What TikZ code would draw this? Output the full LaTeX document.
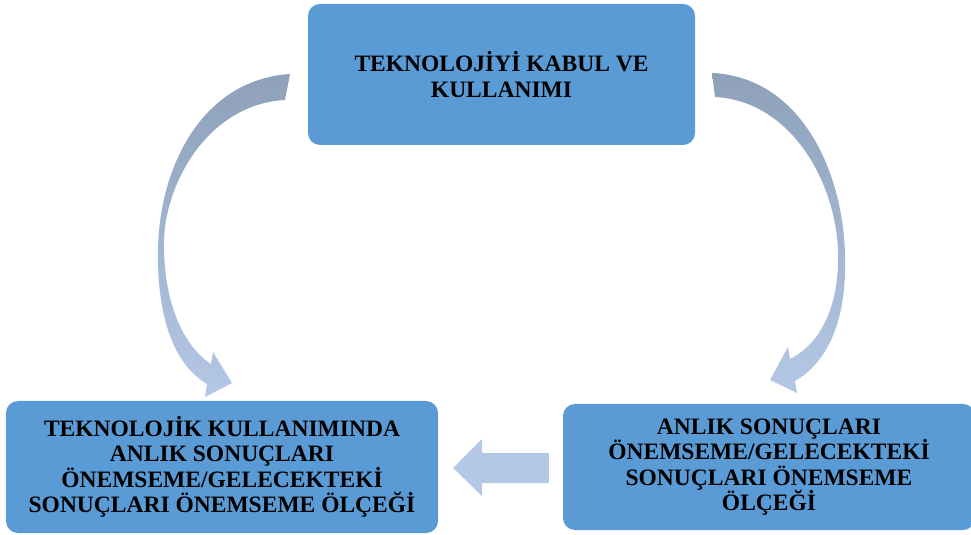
\documentclass[tikz,border=0pt]{standalone}
\usepackage{fontspec}
\setmainfont{Liberation Serif}
\usetikzlibrary{calc}
\definecolor{boxblue}{HTML}{5B9BD5}
\definecolor{arrowgray}{HTML}{8EA1B9}
\definecolor{arrowlight}{HTML}{B4C8E6}
\begin{document}
\begin{tikzpicture}[x=1bp,y=-1bp,
  box/.style={draw=none, fill=boxblue, rounded corners=12bp, align=center,
    font=\fontsize{23.6}{25.5}\selectfont\bfseries, text=black, inner sep=0pt},
  curvearrow/.style={top color=arrowgray, bottom color=arrowlight, middle color=arrowgray!50!arrowlight, draw=none},
  flatarrow/.style={fill=arrowlight, draw=none}]
\useasboundingbox (0,0) rectangle (971,535);
\node[box, minimum width=387bp, minimum height=141bp] (top) at (501.5,74.5) {TEKNOLOJİYİ KABUL VE\\KULLANIMI};
\node[box, minimum width=432bp, minimum height=132bp] (bl) at (222,467) {TEKNOLOJİK KULLANIMINDA\\ANLIK SONUÇLARI\\ÖNEMSEME/GELECEKTEKİ\\SONUÇLARI ÖNEMSEME ÖLÇEĞİ};
\node[box, minimum width=412bp, minimum height=126bp] (br) at (769,467) {ANLIK SONUÇLARI\\ÖNEMSEME/GELECEKTEKİ\\SONUÇLARI ÖNEMSEME\\ÖLÇEĞİ};
% left curved arrow
\shade[curvearrow] (290,74) .. controls (200,80) and (159,170) .. (158,250)
  .. controls (157,320) and (175,365) .. (207,384)
  -- (205,397) -- (232,383) -- (213,352) -- (211,364)
  .. controls (182,345) and (163,300) .. (164,240)
  .. controls (166,180) and (210,104) .. (285,100) -- cycle;
% right curved arrow
\shade[curvearrow] (712,73) .. controls (800,77) and (843,170) .. (845,255)
  .. controls (847,320) and (828,362) .. (795,381)
  -- (797,393) -- (770,380) -- (788,347) -- (790,359)
  .. controls (818,345) and (840,310) .. (838,250)
  .. controls (835,180) and (790,101) .. (715,97) -- cycle;
% horizontal arrow
\fill[flatarrow] ($(br.west)+(-14,-14)$) -- (482,453) -- (482,439) -- ($(bl.east)+(15,1)$)
  -- (482,496) -- (482,483) -- ($(br.west)+(-14,16)$) -- cycle;
\end{tikzpicture}
\end{document}
